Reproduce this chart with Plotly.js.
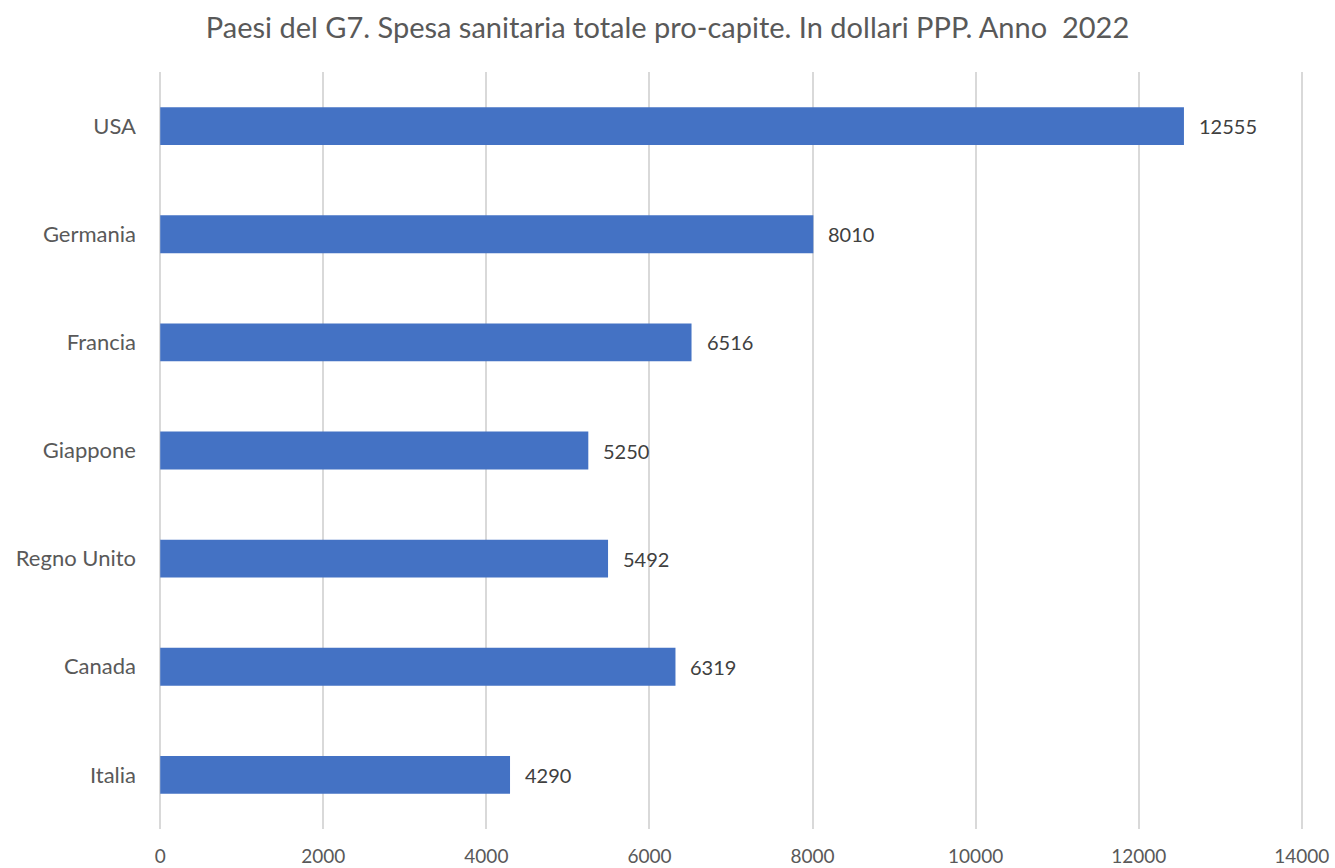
<!DOCTYPE html>
<html>
<head>
<meta charset="utf-8">
<script src="https://cdn.plot.ly/plotly-3.0.1.min.js"></script>
<style>html,body{margin:0;padding:0;background:#fff;}#chart{width:1335px;height:868px;}</style>
</head>
<body>
<div id="chart"></div>
<script>
const countries = ["Italia", "Canada", "Regno Unito", "Giappone", "Francia", "Germania", "USA"];
const spending = [4290, 6319, 5492, 5250, 6516, 8010, 12555];
const xTicks = [0, 2000, 4000, 6000, 8000, 10000, 12000, 14000];
const chartTitle = "Paesi del G7. Spesa sanitaria totale pro-capite. In dollari PPP. Anno  2022";

const font = "Lato, 'Open Sans', sans-serif";
const textColor = "#595959";

const trace = {
  type: "bar",
  orientation: "h",
  y: countries,
  x: spending,
  marker: {color: "#4472C4"},
  width: 0.35,
  hoverinfo: "x+y"
};

const annotations = countries.map((c, i) => ({
  x: spending[i], y: c, xref: "x", yref: "y",
  text: String(spending[i]), showarrow: false,
  xanchor: "left", yanchor: "middle", xshift: 13,
  font: {family: font, size: 20, color: "#404040"}
}));

const layout = {
  width: 1335, height: 868,
  margin: {l: 159, r: 32, t: 72, b: 39},
  paper_bgcolor: "#fff", plot_bgcolor: "#fff",
  title: {text: chartTitle, x: 0.5, xanchor: "center", y: 0.968, yanchor: "middle",
          font: {family: font, size: 29, color: textColor}},
  xaxis: {range: [-15, 14015], tickvals: xTicks, ticktext: xTicks.map(String),
          showgrid: true, gridcolor: "#d9d9d9", gridwidth: 2, zeroline: false,
          showline: false, ticks: "", ticklen: 0, ticklabelstandoff: 14,
          tickfont: {family: font, size: 19, color: textColor}},
  yaxis: {range: [-0.5, 6.5], showgrid: false, zeroline: false, showline: false,
          ticks: "", ticklen: 0, automargin: false, ticklabelstandoff: 22,
          tickfont: {family: font, size: 22, color: textColor}},
  annotations: annotations,
  showlegend: false
};

Plotly.newPlot("chart", [trace], layout, {displayModeBar: false, staticPlot: true});
</script>
</body>
</html>
